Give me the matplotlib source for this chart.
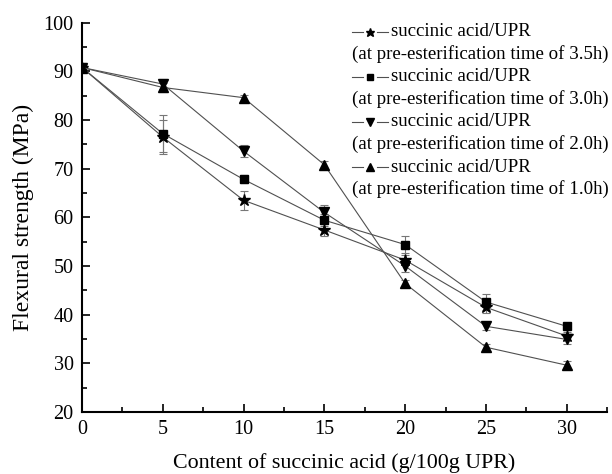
import numpy as np
import matplotlib.pyplot as plt
from matplotlib.ticker import MultipleLocator

plt.rcParams['font.family'] = ['Liberation Serif', 'DejaVu Serif']

# succinic acid content (g/100g UPR)
content = [0, 5, 10, 15, 20, 25, 30]

# flexural strength (MPa) for each pre-esterification time
fs_35h = [90.8, 76.5, 63.5, 57.4, 51.2, 41.5, 35.6]
fs_30h = [90.8, 77.2, 67.8, 59.4, 54.4, 42.6, 37.6]
fs_20h = [90.8, 87.4, 73.6, 61.0, 50.0, 37.6, 34.9]
fs_10h = [90.8, 86.7, 84.6, 70.8, 46.4, 33.3, 29.6]

err_35h = [1.0, 3.5, 2.0, 1.2, 1.0, 1.2, 0.8]
err_30h = [0.8, 3.8, 0.8, 1.2, 1.8, 1.6, 0.6]
err_20h = [0.5, 1.0, 1.2, 1.5, 1.2, 0.8, 1.0]
err_10h = [0.5, 1.0, 0.6, 0.8, 0.8, 0.7, 0.8]

times = ['3.5h', '3.0h', '2.0h', '1.0h']
series = [fs_35h, fs_30h, fs_20h, fs_10h]
errors = [err_35h, err_30h, err_20h, err_10h]
markers = ['*', 's', 'v', '^']
msizes = [9, 6, 7.5, 7.5]

fig = plt.figure(figsize=(6.12, 4.74), dpi=100)
ax = fig.add_axes([0.134, 0.131, 0.858, 0.821])

for y, e, m, ms in zip(series, errors, markers, msizes):
    ax.errorbar(content, y, yerr=e, color='#505050', lw=0.8,
                ecolor='#777777', elinewidth=0.8, capsize=3, capthick=0.8,
                marker=m, markersize=ms, mfc='black', mec='black', zorder=3)

ax.set_xlim(0, 32.5)
ax.set_ylim(20, 100)
ax.xaxis.set_major_locator(MultipleLocator(5))
ax.xaxis.set_minor_locator(MultipleLocator(2.5))
ax.yaxis.set_major_locator(MultipleLocator(10))
ax.yaxis.set_minor_locator(MultipleLocator(5))
ax.tick_params(which='major', direction='in', length=6, width=1.2, labelsize=14.5, pad=6)
ax.tick_params(which='minor', direction='in', length=3.5, width=1.2)
for side in ['top', 'right']:
    ax.spines[side].set_visible(False)
for side in ['left', 'bottom']:
    ax.spines[side].set_linewidth(1.5)

ax.set_xlabel('Content of succinic acid (g/100g UPR)', fontsize=15.8, labelpad=10)
ax.set_ylabel('Flexural strength (MPa)', fontsize=17, labelpad=7)

# legend drawn by hand so the second line of each entry starts under the handle
W, H = 612, 474
row_h = 22.5 / H
y0 = 1 - 32 / H
for i, (t, m, ms) in enumerate(zip(times, markers, msizes)):
    yy = y0 - 2 * i * row_h
    for xa, xb in [(352, 363), (377, 388)]:
        fig.add_artist(plt.Line2D([xa / W, xb / W], [yy, yy], color='#505050', lw=0.8,
                                  transform=fig.transFigure))
    fig.add_artist(plt.Line2D([370 / W], [yy], marker=m, markersize=ms * 0.72,
                              color='black', transform=fig.transFigure))
    fig.text(391 / W, yy, 'succinic acid/UPR', fontsize=13.6, va='center', ha='left')
    fig.text(352 / W, yy - row_h, '(at pre-esterification time of %s)' % t,
             fontsize=13.6, va='center', ha='left')

fig.savefig('out.png', dpi=100)
